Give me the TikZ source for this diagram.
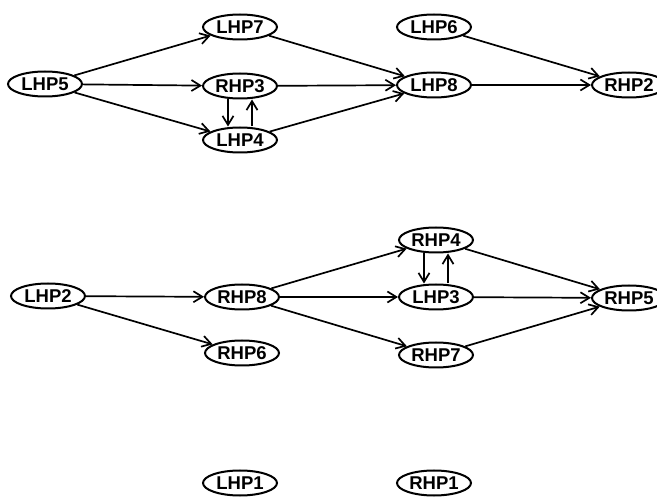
\documentclass[tikz,border=0pt]{standalone}
\usepackage{fontspec}
\setmainfont{Liberation Sans}
\usetikzlibrary{shapes.geometric}
\usetikzlibrary{arrows.meta}

\begin{document}
\begin{tikzpicture}[x=1pt,y=-1pt,
  hp/.style={ellipse,draw,line width=2pt,minimum width=74pt,minimum height=25pt,inner sep=0pt,font=\fontsize{18.5}{21}\selectfont\bfseries},
  arr/.style={line width=1.7pt,-{Straight Barb[length=9pt,width=11pt,line width=1.7pt]}}]
\useasboundingbox (0,0) rectangle (657,497);
% upper group
\node[hp] (LHP5) at (45,84) {LHP5};
\node[hp] (LHP7) at (240,27) {LHP7};
\node[hp] (RHP3) at (240,86) {RHP3};
\node[hp] (LHP4) at (240,140) {LHP4};
\node[hp] (LHP6) at (434,27) {LHP6};
\node[hp] (LHP8) at (434,85) {LHP8};
\node[hp] (RHP2) at (629,85) {RHP2};
\draw[arr] (LHP5) -- (LHP7);
\draw[arr] (LHP5) -- (RHP3);
\draw[arr] (LHP5) -- (LHP4);
\draw[arr] ([xshift=-12pt]RHP3.south) -- ([xshift=-12pt]LHP4.north);
\draw[arr] ([xshift=12pt]LHP4.north) -- ([xshift=12pt]RHP3.south);
\draw[arr] (LHP7) -- (LHP8);
\draw[arr] (RHP3) -- (LHP8);
\draw[arr] (LHP4) -- (LHP8);
\draw[arr] (LHP8) -- (RHP2);
\draw[arr] (LHP6) -- (RHP2);
% middle group
\node[hp] (LHP2) at (48,296) {LHP2};
\node[hp] (RHP8) at (242,297) {RHP8};
\node[hp] (RHP6) at (242,353) {RHP6};
\node[hp] (RHP4) at (436,240) {RHP4};
\node[hp] (LHP3) at (436,297) {LHP3};
\node[hp] (RHP7) at (436,355) {RHP7};
\node[hp] (RHP5) at (629,298) {RHP5};
\draw[arr] (LHP2) -- (RHP8);
\draw[arr] (LHP2) -- (RHP6);
\draw[arr] (RHP8) -- (RHP4);
\draw[arr] (RHP8) -- (LHP3);
\draw[arr] (RHP8) -- (RHP7);
\draw[arr] ([xshift=-12pt]RHP4.south) -- ([xshift=-12pt]LHP3.north);
\draw[arr] ([xshift=12pt]LHP3.north) -- ([xshift=12pt]RHP4.south);
\draw[arr] (RHP4) -- (RHP5);
\draw[arr] (LHP3) -- (RHP5);
\draw[arr] (RHP7) -- (RHP5);
% isolated
\node[hp] (LHP1) at (240,483) {LHP1};
\node[hp] (RHP1) at (434,483) {RHP1};
\end{tikzpicture}
\end{document}
